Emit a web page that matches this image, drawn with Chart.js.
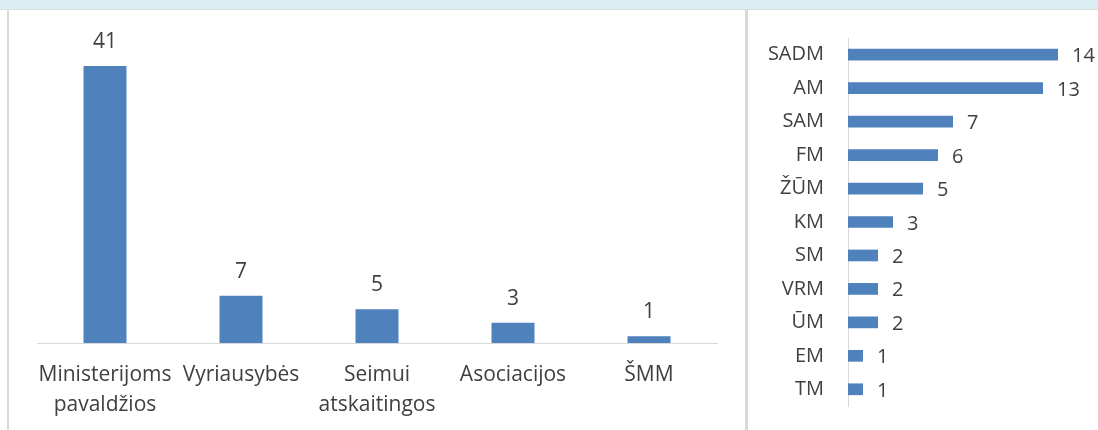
<!DOCTYPE html>
<html>
<head>
<meta charset="utf-8">
<script src="https://cdn.jsdelivr.net/npm/chart.js@4"></script>
<style>
  body { margin: 0; width: 1098px; height: 430px; position: relative; overflow: hidden; background: #fff; }
  .band { position: absolute; left: 0; top: 0; width: 1098px; height: 9px; background: #daeef3; border-bottom: 1px solid #dcdcdc; }
  .vline { position: absolute; top: 10px; bottom: 0; background: #d9d9d9; }
  canvas { position: absolute; }
</style>
</head>
<body>
<div class="band"></div>
<div class="vline" style="left:7px;width:2px"></div>
<div class="vline" style="left:745px;width:3px"></div>
<canvas id="left" width="735" height="420" style="left:9px;top:10px"></canvas>
<canvas id="right" width="348" height="420" style="left:750px;top:10px"></canvas>
<script>
const groupLabels = [["Ministerijoms", "pavaldžios"], "Vyriausybės", ["Seimui", "atskaitingos"], "Asociacijos", "ŠMM"];
const groupValues = [41, 7, 5, 3, 1];

const ministryLabels = ["SADM", "AM", "SAM", "FM", "ŽŪM", "KM", "SM", "VRM", "ŪM", "EM", "TM"];
const ministryValues = [14, 13, 7, 6, 5, 3, 2, 2, 2, 1, 1];

const blue = "#4f81bd";
const ink = "#404040";
const axisGray = "#d9d9d9";
const font = "Open Sans";

// values next to the bars, like Excel data labels
const valueLabels = {
  id: "valueLabels",
  afterDatasetsDraw(chart, args, opts) {
    const { ctx } = chart;
    const horizontal = chart.options.indexAxis === "y";
    const data = chart.data.datasets[0].data;
    ctx.save();
    ctx.font = `${opts.size}px "${font}"`;
    ctx.fillStyle = ink;
    ctx.textBaseline = "alphabetic";
    chart.getDatasetMeta(0).data.forEach((bar, i) => {
      if (horizontal) {
        ctx.textAlign = "left";
        ctx.fillText(data[i], bar.x + 14, bar.y + 7.5);
      } else {
        ctx.textAlign = "center";
        ctx.fillText(data[i], bar.x, bar.y - 18);
      }
    });
    ctx.restore();
  },
};

new Chart(document.getElementById("left"), {
  type: "bar",
  data: {
    labels: groupLabels,
    datasets: [{ data: groupValues, backgroundColor: blue, categoryPercentage: 1, barPercentage: 0.316 }],
  },
  options: {
    responsive: false,
    animation: false,
    layout: { padding: { left: 28, right: 27, top: 56, bottom: 0 } },
    plugins: { legend: { display: false }, tooltip: { enabled: false }, valueLabels: { size: 21 } },
    scales: {
      x: {
        grid: { display: false, drawTicks: false },
        border: { color: axisGray },
        ticks: { color: ink, font: { family: font, size: 21, lineHeight: 1.43 }, padding: 17, maxRotation: 0, autoSkip: false },
        afterFit(s) { s.height = 87; },
      },
      y: { display: false, min: 0, max: 41 },
    },
  },
  plugins: [valueLabels],
});

new Chart(document.getElementById("right"), {
  type: "bar",
  data: {
    labels: ministryLabels,
    datasets: [{ data: ministryValues, backgroundColor: blue, categoryPercentage: 1, barPercentage: 0.35 }],
  },
  options: {
    indexAxis: "y",
    responsive: false,
    animation: false,
    layout: { padding: { left: 0, right: 10, top: 28, bottom: 24 } },
    plugins: { legend: { display: false }, tooltip: { enabled: false }, valueLabels: { size: 20 } },
    scales: {
      x: { display: false, min: 0, max: 16 },
      y: {
        grid: { display: false, drawTicks: false },
        border: { color: axisGray },
        ticks: { color: ink, font: { family: font, size: 20 }, padding: 24, autoSkip: false },
        afterFit(s) {
          s.width = 98;
          s.paddingTop = 0;
          s.paddingBottom = 0;
        },
      },
    },
  },
  plugins: [valueLabels],
});
</script>
</body>
</html>
